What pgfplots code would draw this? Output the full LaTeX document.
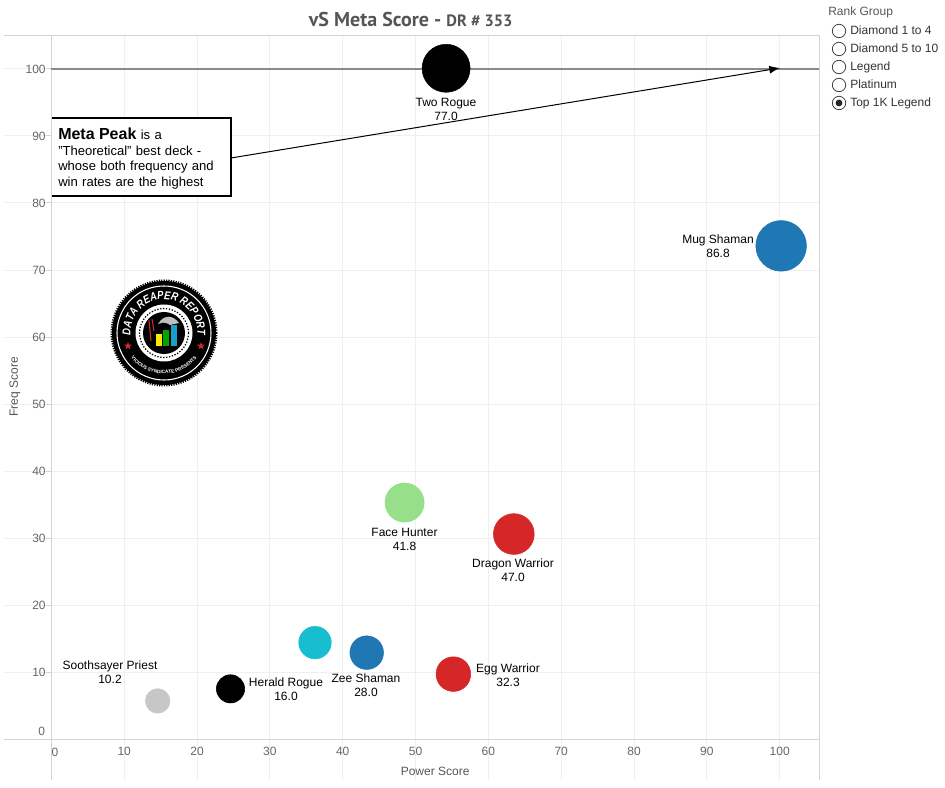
\documentclass[border=0pt]{standalone}
\usepackage{fontspec}
\setmainfont{Liberation Sans}
\newfontfamily\titlefont{PT Sans}
\newfontfamily\logofont[FakeStretch=0.82]{Liberation Sans}
\usepackage{pgfplots}
\pgfplotsset{compat=1.18}
\usetikzlibrary{arrows.meta,decorations.text,shapes.geometric}

\definecolor{gridc}{HTML}{EFEFEF}
\definecolor{axisc}{HTML}{D4D4D4}
\definecolor{peakc}{HTML}{8A8A8A}
\definecolor{tickc}{HTML}{666666}
\definecolor{titlec}{HTML}{555555}
\definecolor{tabblue}{HTML}{1F77B4}
\definecolor{tabgreen}{HTML}{98DF8A}
\definecolor{tabred}{HTML}{D62728}
\definecolor{tabteal}{HTML}{17BECF}
\definecolor{tabgrey}{HTML}{C7C7C7}

% 12px label text, 1px = 0.75pt
\newcommand{\lab}{\fontsize{9}{10.5}\selectfont}

\begin{document}
\begin{tikzpicture}
  \path[use as bounding box] (0,0) rectangle (708.75pt,591pt);
  \begin{axis}[
    at={(3pt,6pt)}, anchor=south west,
    scale only axis,
    width=611.25pt, height=558.4pt,
    xmin=-6.5, xmax=105.4,
    ymin=-6.1, ymax=105,
    axis x line=middle,
    axis y line=middle,
    axis line style={-, draw=axisc, line width=.75pt},
    xtick={10,20,...,100},
    ytick={10,20,...,100},
    grid=major,
    major grid style={draw=gridc, line width=.75pt},
    xtick style={draw=none},
    ytick style={draw=axisc, line width=.75pt},
    tick align=outside,
    major tick length=3.75pt,
    /pgf/number format/assume math mode=true,
    ticklabel style={font=\lab, text=tickc},
    xticklabel style={yshift=1.2pt},
    yticklabel style={xshift=3pt},
    xlabel={Power Score},
    ylabel={Freq Score},
    label style={font=\lab, text=titlec},
    xlabel style={at={(rel axis cs:0.529,0.012)}, anchor=center},
    ylabel style={at={(rel axis cs:0.0135,0.528)}, anchor=center, rotate=90},
    title={\titlefont\bfseries\fontsize{15}{17}\selectfont vS Meta Score - {\fontsize{12.3}{17}\selectfont DR \# 353}},
    title style={at={(rel axis cs:0.499,1.021)}, anchor=center, text=titlec, yshift=-6pt},
    clip=false,
    only marks,
  ]
    % meta peak line
    \addplot[no markers, sharp plot, color=peakc, line width=1.5pt] coordinates {(0,100) (105.4,100)};

    \addplot[color=black, mark=*, mark size=18pt] coordinates {(54.2,100.1)};      % Two Rogue
    \addplot[color=tabblue, mark=*, mark size=19pt] coordinates {(100.2,73.6)};    % Mug Shaman
    \addplot[color=tabgreen, mark=*, mark size=14.7pt] coordinates {(48.5,35.3)};  % Face Hunter
    \addplot[color=tabred, mark=*, mark size=15.3pt] coordinates {(63.5,30.6)};    % Dragon Warrior
    \addplot[color=tabred, mark=*, mark size=13pt] coordinates {(55.2,9.7)};       % Egg Warrior
    \addplot[color=tabblue, mark=*, mark size=12.6pt] coordinates {(43.3,12.9)};   % Zee Shaman
    \addplot[color=tabteal, mark=*, mark size=12.2pt] coordinates {(36.2,14.4)};
    \addplot[color=black, mark=*, mark size=10.6pt] coordinates {(24.6,7.5)};      % Herald Rogue
    \addplot[color=tabgrey, mark=*, mark size=9.2pt] coordinates {(14.6,5.7)};     % Soothsayer Priest
  \end{axis}

  % everything below in reference pixels, y downwards
  \begin{scope}[x=.75pt, y=-.75pt, yshift=591pt]
    \draw[axisc, line width=.75pt] (4,35.5) -- (819,35.5) -- (819,780);

    % the two zeros sit off the axis corner
    \node[font=\lab, text=tickc, inner sep=0] at (55,752.5) {0};
    \node[font=\lab, text=tickc, inner sep=0] at (41.7,731.5) {0};

    % point labels
    \tikzset{pl/.style={font=\lab, align=center, inner sep=0, text=black}}
    \node[pl] at (446,109) {Two Rogue\\77.0};
    \node[pl] at (718,246) {Mug Shaman\\86.8};
    \node[pl] at (404.5,539) {Face Hunter\\41.8};
    \node[pl] at (513,570) {Dragon Warrior\\47.0};
    \node[pl] at (508,675) {Egg Warrior\\32.3};
    \node[pl] at (366,685) {Zee Shaman\\28.0};
    \node[pl] at (286,689) {Herald Rogue\\16.0};
    \node[pl] at (110,672) {Soothsayer Priest\\10.2};

    % annotation
    \draw[black, line width=.75pt, -{Latex[length=8pt,width=6pt]}] (231,158) -- (780,68);
    \fill[white] (52,118) rectangle (231,196);
    \draw[black, line width=1.5pt] (52,118) -- (231,118) -- (231,196) -- (52,196);
    \node[anchor=north west, inner sep=0, align=left, text width=170*.75pt,
      font=\fontsize{9.8}{11.6}\selectfont] at (58,128)
      {{\fontsize{12}{11.6}\selectfont\bfseries Meta Peak} is a\\"Theoretical" best deck -\\whose both frequency and\\win rates are the highest};

    % rank group filter
    \node[anchor=west, inner sep=0, font=\lab, text=titlec, text height=6.5pt, text depth=1.5pt] at (828,12) {Rank Group};
    \foreach \y/\t in {31/Diamond 1 to 4, 49/Diamond 5 to 10, 67/Legend, 85/Platinum, 103/Top 1K Legend} {
      \draw[fill=white, draw=black!75, line width=.6pt] (839,\y) circle[radius=6.7*.75pt];
      \node[anchor=west, inner sep=0, font=\lab, text=black!80, text height=6.5pt, text depth=1.5pt] at (850,\y) {\t};
    }
    \fill[black!85] (839,103) circle[radius=3.4*.75pt];
  \end{scope}

  % logo, y upwards, centred on its pixel position
  \begin{scope}[shift={(123pt,341.25pt)}, x=.75pt, y=.75pt]
    \fill[black] (0,0) circle[radius=52*.75pt];
    \draw[black, line width=1.5pt, dash pattern=on .9pt off .9pt] (0,0) circle[radius=52.5*.75pt];
    \draw[white, line width=.8pt] (0,0) circle[radius=47*.75pt];
    \path[decorate, decoration={text along path, text align=center,
        text color=white,
        text={|\logofont\bfseries\itshape\fontsize{8.6}{9}\selectfont|DATA REAPER REPORT}}]
      (-33,-5.8) arc[start angle=190, end angle=-10, radius=33.5];
    \path[decorate, decoration={text along path, text align=center,
        text color=white,
        text={|\bfseries\fontsize{3.6}{4}\selectfont|VICIOUS SYNDICATE PRESENTS}}]
      (-37.2,-17.3) arc[start angle=205, end angle=335, radius=41];
    \node[star, star points=5, star point ratio=2.4, fill=tabred, inner sep=0, minimum size=6pt] at (-36,-13) {};
    \node[star, star points=5, star point ratio=2.4, fill=tabred, inner sep=0, minimum size=6pt] at (37,-13) {};
    \fill[white] (0,0) circle[radius=28.5*.75pt];
    \draw[black, line width=.9pt, dash pattern=on 1pt off 1.2pt] (0,0) circle[radius=24.5*.75pt];
    \fill[black] (0,0) circle[radius=21*.75pt];
    \fill[black!25] (-6,9) .. controls (0,19) and (9,18) .. (15,10) -- (6,8) .. controls (0,12) and (-3,10) .. (-6,9);
    \draw[tabred, line width=.8pt] (-15,13) -- (-13,-8) (-12,14) -- (-10,2);
    \fill[yellow!90!orange] (-8.3,-13) rectangle (-2.3,-1);
    \fill[green!65!black] (-.7,-13) rectangle (5.3,3);
    \fill[tabblue!70!cyan] (6.7,-13) rectangle (12.7,8);
  \end{scope}
\end{tikzpicture}
\end{document}
